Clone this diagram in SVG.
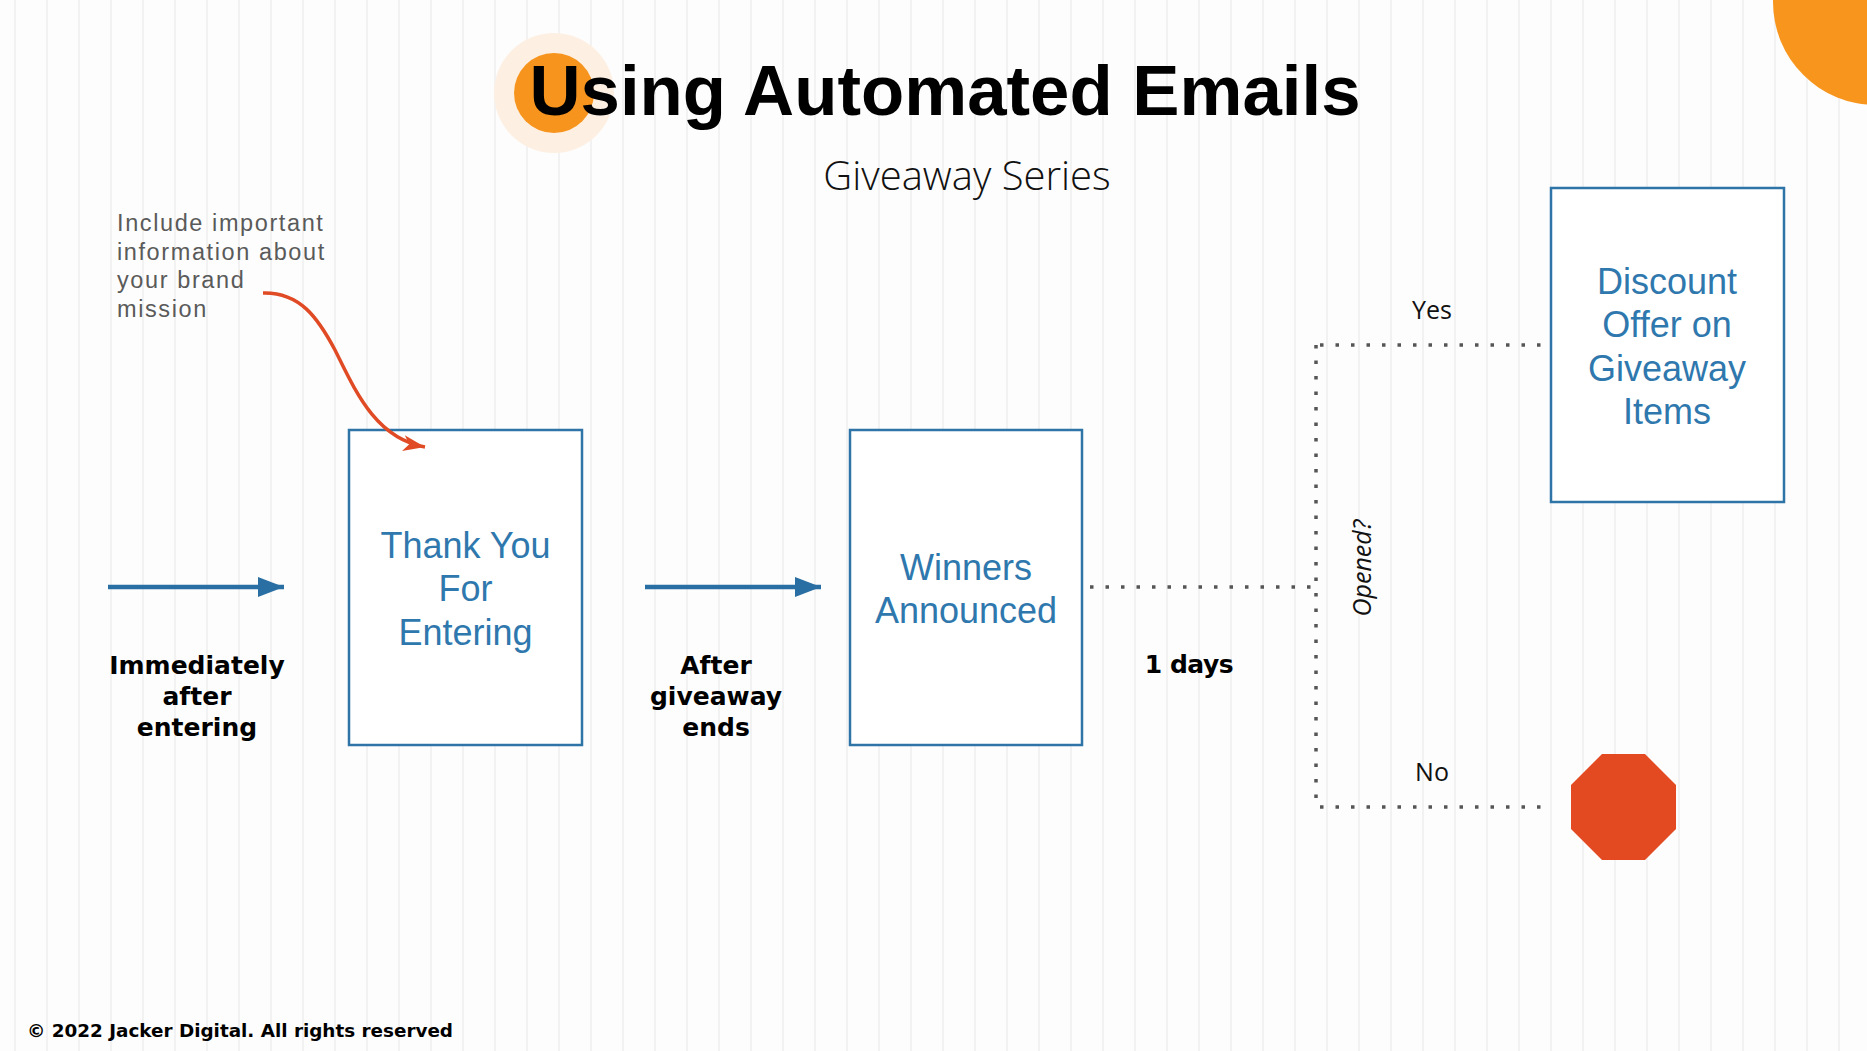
<svg xmlns="http://www.w3.org/2000/svg" width="1867" height="1051" viewBox="0 0 1867 1051">
  <defs>
    <pattern id="stripes" x="0" y="0" width="32" height="1051" patternUnits="userSpaceOnUse">
      <rect x="0" y="0" width="32" height="1051" fill="#fdfdfd"/>
      <rect x="14" y="0" width="2" height="1051" fill="#f2f2f2"/>
    </pattern>
    <marker id="redhead" markerUnits="userSpaceOnUse" markerWidth="24" markerHeight="18" refX="22" refY="8" orient="auto">
      <path d="M0,0 L22,8 L0,16 L6,8 Z" fill="#E04B25"/>
    </marker>
    <marker id="bluehead" markerUnits="userSpaceOnUse" markerWidth="28" markerHeight="22" refX="26" refY="10" orient="auto">
      <path d="M0,0 L26,10 L0,20 Z" fill="#2A6FA3"/>
    </marker>
    <style>
      .box { fill: #ffffff; stroke: #2F74A6; stroke-width: 2.5; }
      .boxtext { font-family: "Liberation Sans", Arial, sans-serif; font-size: 36px; fill: #2F78AE; text-anchor: middle; }
      .lbl { font-family: "DejaVu Sans", sans-serif; font-weight: bold; font-size: 25px; fill: #000; text-anchor: middle; }
      .thin { font-family: "Open Sans", sans-serif; font-weight: 300; }
      .note { font-family: "Liberation Sans", Arial, sans-serif; font-size: 23.5px; letter-spacing: 1.6px; fill: #5a5a5a; }
      .reg { font-family: "Open Sans", sans-serif; font-size: 25px; fill: #111; text-anchor: middle; }
      .blue { stroke: #2A6FA3; stroke-width: 4.5; fill: none; }
      .dots { stroke: #555555; stroke-width: 3.5; fill: none; stroke-dasharray: 3.5 12; }
    </style>
  </defs>

  <rect x="0" y="0" width="1867" height="1051" fill="url(#stripes)"/>

  <!-- decorative circles -->
  <circle cx="1876" cy="2" r="103" fill="#F8951D"/>
  <circle cx="554" cy="93" r="60" fill="#FDF0E3"/>
  <circle cx="554" cy="93" r="40" fill="#F7941D"/>

  <!-- title -->
  <text x="945" y="115" font-family="Liberation Sans, Arial, sans-serif" font-weight="bold" font-size="70" fill="#000" text-anchor="middle" textLength="831" lengthAdjust="spacingAndGlyphs">Using Automated Emails</text>
  <text x="967" y="190" class="thin" font-size="40" fill="#111" text-anchor="middle">Giveaway Series</text>

  <!-- annotation -->
  <g id="annotation">
    <text class="note" x="117" y="231">Include important</text>
    <text class="note" x="117" y="259.5">information about</text>
    <text class="note" x="117" y="288">your brand</text>
    <text class="note" x="117" y="316.5">mission</text>
  </g>

  <!-- nodes -->
  <g id="node-thank-you">
    <rect class="box" x="349" y="430" width="233" height="315"/>
    <text class="boxtext"><tspan x="465.5" y="558">Thank You</tspan><tspan x="465.5" y="601">For</tspan><tspan x="465.5" y="645">Entering</tspan></text>
  </g>
  <g id="node-winners">
    <rect class="box" x="850" y="430" width="232" height="315"/>
    <text class="boxtext"><tspan x="966" y="580">Winners</tspan><tspan x="966" y="623">Announced</tspan></text>
  </g>
  <g id="node-discount">
    <rect class="box" x="1551" y="188" width="233" height="314"/>
    <text class="boxtext"><tspan x="1667" y="294">Discount</tspan><tspan x="1667" y="337">Offer on</tspan><tspan x="1667" y="381">Giveaway</tspan><tspan x="1667" y="424">Items</tspan></text>
  </g>
  <g id="node-stop">
    <polygon points="1602,754 1645,754 1676,785 1676,829 1645,860 1602,860 1571,829 1571,785" fill="#E34A22"/>
  </g>

  <!-- connectors -->
  <g id="connectors">
    <path d="M263,293 C300,292 318,318 335,350 C355,390 375,438 425,447" fill="none" stroke="#E04B25" stroke-width="3.5" marker-end="url(#redhead)"/>
    <line class="blue" x1="108" y1="587" x2="284" y2="587" marker-end="url(#bluehead)"/>
    <line class="blue" x1="645" y1="587" x2="821" y2="587" marker-end="url(#bluehead)"/>
    <path class="dots" d="M1090,587 L1316,587"/>
    <path class="dots" d="M1316,345 L1316,807"/>
    <path class="dots" d="M1320,345 L1542,345"/>
    <path class="dots" d="M1320,807 L1546,807"/>
  </g>

  <!-- labels -->
  <g id="labels">
    <text class="lbl"><tspan x="197" y="674">Immediately</tspan><tspan x="197" y="705">after</tspan><tspan x="197" y="736">entering</tspan></text>
    <text class="lbl"><tspan x="716" y="674">After</tspan><tspan x="716" y="705">giveaway</tspan><tspan x="716" y="736">ends</tspan></text>
    <text class="lbl" x="1189" y="673" letter-spacing="-0.5">1 days</text>
    <text class="reg" x="1432" y="319">Yes</text>
    <text class="reg" x="1432" y="781">No</text>
    <text class="reg" x="1371" y="568" font-style="italic" font-size="28" transform="rotate(-90 1371 568)">Opened?</text>
  </g>

  <!-- footer -->
  <text x="27" y="1037" font-family="DejaVu Sans, sans-serif" font-weight="bold" font-size="17" fill="#000" textLength="426" lengthAdjust="spacingAndGlyphs">© 2022 Jacker Digital. All rights reserved</text>
</svg>
